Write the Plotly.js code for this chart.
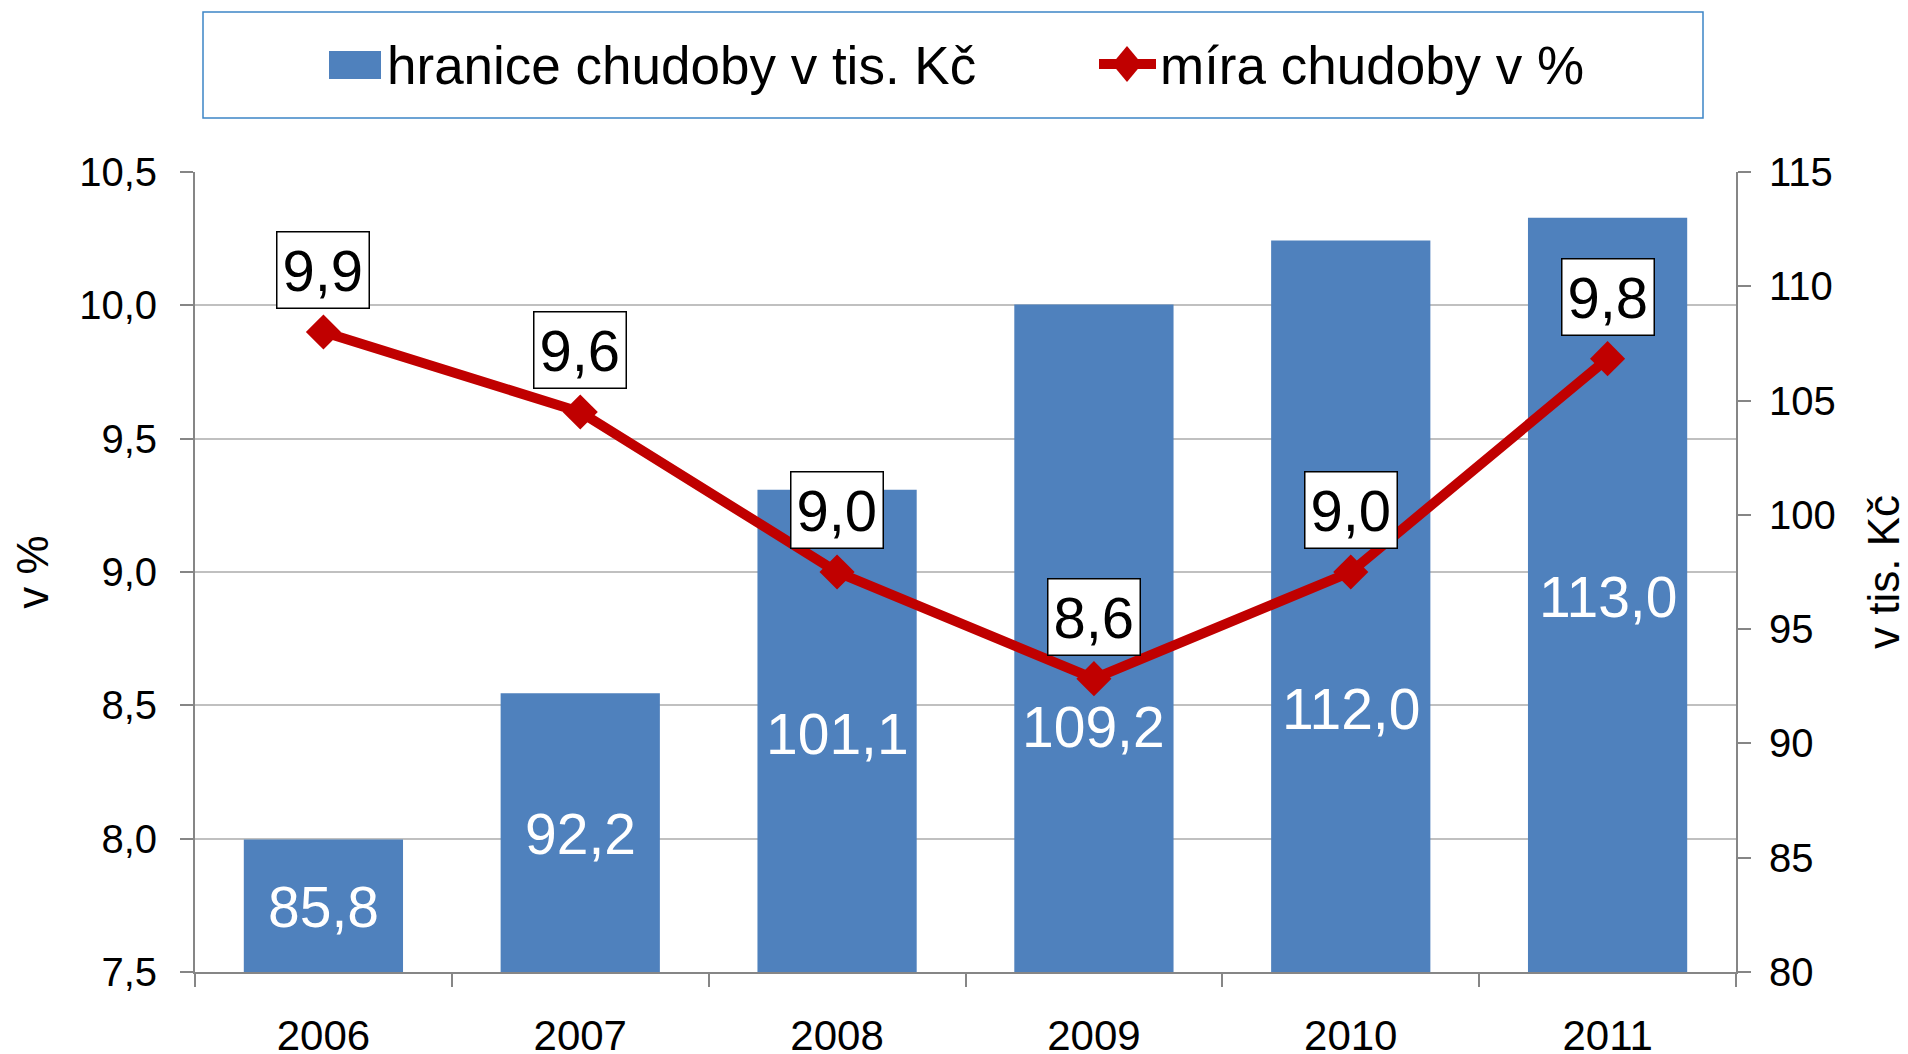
<!DOCTYPE html>
<html>
<head>
<meta charset="utf-8">
<script src="https://cdn.plot.ly/plotly-3.0.1.min.js"></script>
<style>
  html, body { margin: 0; padding: 0; background: #ffffff; }
  #chart { width: 1908px; height: 1054px; }
</style>
</head>
<body>
<div id="chart"></div>
<script>
// ---- data ----
const years = ['2006', '2007', '2008', '2009', '2010', '2011'];
const povertyLine = [85.8, 92.2, 101.1, 109.2, 112.0, 113.0];   // hranice chudoby v tis. Kč
const povertyRate = [9.9, 9.6, 9.0, 8.6, 9.0, 9.8];             // míra chudoby v %
const barName = 'hranice chudoby v tis. Kč';
const lineName = 'míra chudoby v %';
const leftTitle = 'v %';
const rightTitle = 'v tis. Kč';
const rightRange = [80, 115];
const leftRange = [7.5, 10.5];

// ---- layout helpers ----
const W = 1908, H = 1054;
const M = { l: 195, r: 172, t: 172, b: 82 };
const PW = W - M.l - M.r, PH = H - M.t - M.b;
const px = x => (x - M.l) / PW;
const py = y => (H - M.b - y) / PH;

// placement of the white bar labels (right-axis units, as placed in the original)
const barLabelY = [82.85, 86.05, 90.4, 90.7, 91.5, 96.4];

const FONT = 'Liberation Sans, Arial, Helvetica, sans-serif';
const BLUE = '#4f81bd';
const RED = '#c00000';
const AXIS = '#868686';

const fmt = v => v.toFixed(1).replace('.', ',');

const barTrace = {
  type: 'bar',
  name: barName,
  x: years,
  y: povertyLine,
  yaxis: 'y',
  marker: { color: BLUE },
  showlegend: false,
  hoverinfo: 'x+y'
};

const lineTrace = {
  type: 'scatter',
  mode: 'lines+markers',
  name: lineName,
  x: years,
  y: povertyRate,
  yaxis: 'y2',
  line: { color: RED, width: 10 },
  marker: { symbol: 'diamond', size: 27, color: RED },
  showlegend: false,
  hoverinfo: 'x+y'
};

// bar value labels
const barLabels = povertyLine.map((v, i) => ({
  x: i, y: barLabelY[i], xref: 'x', yref: 'y',
  text: fmt(v), showarrow: false,
  xanchor: 'center', yanchor: 'middle',
  font: { family: FONT, size: 57, color: '#ffffff' }
}));

// data labels of the line (category index i on the category axis)
const lineLabels = povertyRate.map((v, i) => ({
  x: i, y: v, xref: 'x', yref: 'y2',
  text: fmt(v), showarrow: false,
  yanchor: 'bottom', yshift: 23,
  font: { family: FONT, size: 58, color: '#000000' },
  bgcolor: '#ffffff', bordercolor: '#000000', borderwidth: 1.5, borderpad: 5
}));

// custom legend (paper coordinates)
const legendAnnotations = [
  { xref: 'paper', yref: 'paper', x: px(385), y: py(66), xanchor: 'left', yanchor: 'middle',
    text: barName, showarrow: false, font: { family: FONT, size: 53, color: '#000000' } },
  { xref: 'paper', yref: 'paper', x: px(1158), y: py(66), xanchor: 'left', yanchor: 'middle',
    text: lineName, showarrow: false, font: { family: FONT, size: 53, color: '#000000' } }
];

const cx = 1127, cy = 64;
const legendShapes = [
  { type: 'rect', xref: 'paper', yref: 'paper', x0: px(203), x1: px(1703), y0: py(12), y1: py(118),
    line: { color: '#3d85c6', width: 1.5 }, fillcolor: 'rgba(0,0,0,0)' },
  { type: 'rect', xref: 'paper', yref: 'paper', x0: px(329), x1: px(381), y0: py(51), y1: py(79),
    line: { width: 0 }, fillcolor: BLUE },
  { type: 'line', xref: 'paper', yref: 'paper', x0: px(1099), x1: px(1156), y0: py(cy), y1: py(cy),
    line: { color: RED, width: 10 } },
  { type: 'path', xref: 'paper', yref: 'paper',
    path: `M ${px(cx)} ${py(cy - 18)} L ${px(cx + 15)} ${py(cy)} L ${px(cx)} ${py(cy + 18)} L ${px(cx - 15)} ${py(cy)} Z`,
    line: { width: 0 }, fillcolor: RED }
];

const layout = {
  width: W, height: H,
  margin: M,
  paper_bgcolor: '#ffffff',
  plot_bgcolor: '#ffffff',
  font: { family: FONT, color: '#000000' },
  separators: ', ',
  showlegend: false,
  bargap: 0.38,
  xaxis: {
    type: 'category',
    range: [-0.5, years.length - 0.5],
    tickson: 'boundaries',
    ticks: 'outside', ticklen: 13, tickwidth: 2, tickcolor: AXIS,
    ticklabelstandoff: 26,
    showline: true, linecolor: AXIS, linewidth: 2,
    showgrid: false,
    tickfont: { family: FONT, size: 42, color: '#000000' }
  },
  yaxis: {
    side: 'right',
    range: rightRange, dtick: 5, tick0: rightRange[0],
    showgrid: false, zeroline: false,
    showline: true, linecolor: AXIS, linewidth: 2,
    ticks: 'outside', ticklen: 13, tickwidth: 2, tickcolor: AXIS,
    ticklabelstandoff: 10,
    tickfont: { family: FONT, size: 40, color: '#000000' },
    title: { text: rightTitle, standoff: 38, font: { family: FONT, size: 44, color: '#000000' } }
  },
  yaxis2: {
    overlaying: 'y',
    side: 'left',
    range: leftRange, dtick: 0.5, tick0: leftRange[0],
    tickformat: '.1f',
    showgrid: true, gridcolor: '#c0c0c0', gridwidth: 2,
    zeroline: false,
    showline: true, linecolor: AXIS, linewidth: 2,
    ticks: 'outside', ticklen: 13, tickwidth: 2, tickcolor: AXIS,
    ticklabelstandoff: 15,
    tickfont: { family: FONT, size: 40, color: '#000000' },
    title: { text: leftTitle, standoff: 17, font: { family: FONT, size: 44, color: '#000000' } }
  },
  annotations: barLabels.concat(lineLabels, legendAnnotations),
  shapes: legendShapes
};

Plotly.newPlot('chart', [barTrace, lineTrace], layout, { displayModeBar: false, staticPlot: true });
</script>
</body>
</html>
